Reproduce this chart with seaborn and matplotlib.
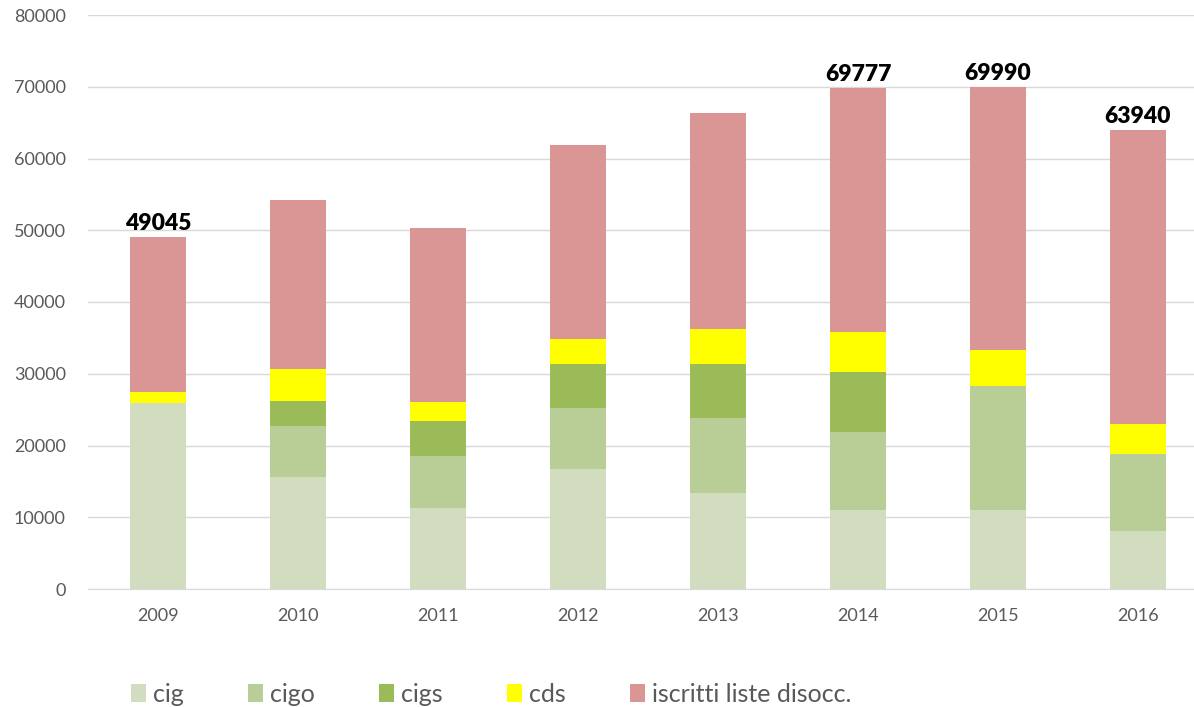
import pandas as pd
import matplotlib
matplotlib.use("Agg")
import matplotlib.pyplot as plt
from matplotlib.patches import Patch
import seaborn as sns

years = ["2009", "2010", "2011", "2012", "2013", "2014", "2015", "2016"]
cig = [25900, 15670, 11250, 16790, 13440, 11060, 11020, 8130]
cigo = [0, 6980, 7350, 8370, 10460, 10890, 17300, 10750]
cigs = [0, 3580, 4790, 6230, 7490, 8230, 0, 0]
cds = [1530, 4370, 2700, 3490, 4830, 5680, 5030, 4050]
iscritti = [21615, 23580, 24180, 26980, 30110, 33917, 36640, 41010]
series_names = ["cig", "cigo", "cigs", "cds", "iscritti liste disocc."]
colors = ["#D1DDBE", "#B9CE96", "#9BBB59", "#FFFF00", "#D99694"]

# totals shown only on some bars
label_years = ["2009", "2014", "2015", "2016"]

sns.set_style("white")
plt.rcParams['font.family'] = ['Lato', 'DejaVu Sans']

fig = plt.figure(figsize=(11.94, 7.07), dpi=100)
ax = fig.add_axes([88 / 1194, 1 - 589 / 707, 1 - 88 / 1194, (589 - 15) / 707])

layers = [cig, cigo, cigs, cds, iscritti]
bottom = [0] * len(years)
for name, vals, col in zip(series_names, layers, colors):
    df = pd.DataFrame({"year": years, "val": vals})
    sns.barplot(data=df, x="year", y="val", color=col, width=0.4,
                bottom=bottom, ax=ax, saturation=1, linewidth=0)
    bottom = [b + v for b, v in zip(bottom, vals)]

totals = bottom
for i, y in enumerate(years):
    if y in label_years:
        ax.text(i, totals[i] + 400, str(round(totals[i])), ha="center", va="bottom",
                fontsize=16.5, fontweight="heavy", color="black")

ax.set_ylim(0, 80000)
ax.set_xlim(-0.5, 7.4)
ax.set_yticks(range(0, 80001, 10000))
ax.yaxis.grid(True, color="#D9D9D9", linewidth=1)
ax.set_axisbelow(True)
for s in ["top", "right", "left"]:
    ax.spines[s].set_visible(False)
ax.spines["bottom"].set_color("#D9D9D9")
ax.tick_params(axis="both", length=0, labelsize=13, labelcolor="#595959")
ax.tick_params(axis="x", pad=14)
ax.tick_params(axis="y", pad=16)
ax.set_xlabel("")
ax.set_ylabel("")

handles = [Patch(facecolor=c, edgecolor="none") for c in colors]
fig.legend(handles, series_names, loc="center left", bbox_to_anchor=(108 / 1194, 1 - 694 / 707),
           ncol=5, frameon=False, fontsize=18, handlelength=0.6, handleheight=0.7,
           handletextpad=0.3, columnspacing=2.55, labelcolor="#595959")

fig.savefig("out.png", dpi=100)
